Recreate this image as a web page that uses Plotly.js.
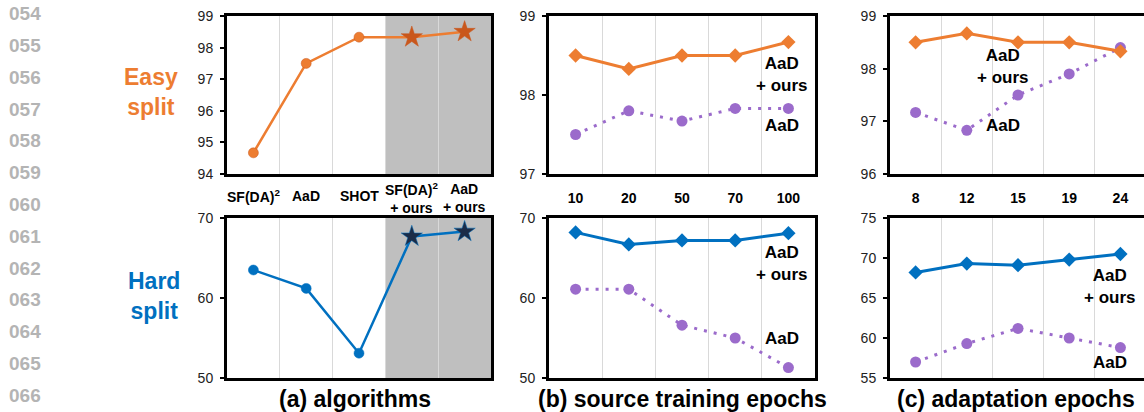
<!DOCTYPE html>
<html>
<head>
<meta charset="utf-8">
<script src="https://cdn.plot.ly/plotly-3.0.1.min.js"></script>
<style>
html,body{margin:0;padding:0;overflow:hidden;background:#fff;width:1144px;height:412px;}
#chart{width:1150px;height:412px;}
</style>
</head>
<body>
<div id="chart"></div>
<script>
// ---- data ----
const algorithms = ['SF(DA)<sup>2</sup>', 'AaD', 'SHOT', 'SF(DA)<sup>2</sup><br>+ ours', 'AaD<br>+ ours'];
const easyAlgo = [94.67, 97.5, 98.33, 98.33, 98.5];
const hardAlgo = [63.5, 61.2, 53.1, 67.7, 68.3];

const sourceEpochs = ['10', '20', '50', '70', '100'];
const easySrcOurs = [98.5, 98.33, 98.5, 98.5, 98.67];
const easySrcAaD = [97.5, 97.8, 97.67, 97.83, 97.83];
const hardSrcOurs = [68.2, 66.7, 67.2, 67.2, 68.1];
const hardSrcAaD = [61.1, 61.1, 56.6, 55.0, 51.3];

const adaptEpochs = ['8', '12', '15', '19', '24'];
const easyAdaOurs = [98.5, 98.67, 98.5, 98.5, 98.33];
const easyAdaAaD = [97.17, 96.83, 97.5, 97.9, 98.4];
const hardAdaOurs = [68.2, 69.3, 69.1, 69.8, 70.5];
const hardAdaAaD = [57.0, 59.3, 61.2, 60.0, 58.8];

const lineNumbers = ['054','055','056','057','058','059','060','061','062','063','064','065','066'];
const panelTitles = ['(a) algorithms', '(b) source training epochs', '(c) adaptation epochs'];
const splitLabels = ['Easy<br>split', 'Hard<br>split'];
const oursLabel = 'AaD<br>+ ours';
const aadLabel = 'AaD';

// ---- style ----
const W = 1150, H = 412;
const px = x => x / W;
const py = y => 1 - y / H;
const ORANGE = '#ED7D31', ORANGE_STAR = '#C9571C';
const BLUE = '#0070C0', BLUE_STAR = '#1B2C48';
const PURPLE = '#9B6BCB';
const FONT = 'Liberation Sans, Arial, sans-serif';

const colX = [[227, 491], [549, 815], [890, 1146]];
const rowY = [[16, 174], [218, 378]];

function xAxis(ci, ri, showLabels, anchor) {
  return {
    domain: [px(colX[ci][0]), px(colX[ci][1])],
    anchor: anchor,
    type: 'category',
    range: [-0.5, 4.5],
    tickson: 'boundaries',
    showgrid: true, gridcolor: '#D9D9D9', gridwidth: 1,
    showline: true, mirror: true, linecolor: '#000', linewidth: 3,
    ticks: '', showticklabels: showLabels,
    ticklabelstandoff: 9,
    tickfont: {family: FONT, size: 14, weight: 'bold', color: '#000'},
    zeroline: false, fixedrange: true
  };
}
function yAxis(ci, ri, range, dtick, anchor) {
  return {
    domain: [py(rowY[ri][1]), py(rowY[ri][0])],
    anchor: anchor,
    range: range, dtick: dtick, tick0: range[0],
    showgrid: false, zeroline: false,
    showline: true, mirror: true, linecolor: '#000', linewidth: 3,
    ticks: 'outside', ticklen: 4, tickwidth: 2, tickcolor: '#000',
    ticklabelstandoff: 4,
    tickfont: {family: FONT, size: 14, color: '#222'},
    fixedrange: true
  };
}

const starSyms = ['circle', 'circle', 'circle', 'star', 'star'];
const traces = [
  {x: algorithms, y: easyAlgo, xaxis: 'x', yaxis: 'y', mode: 'lines+markers',
   line: {color: ORANGE, width: 2.5},
   marker: {symbol: starSyms, size: [10, 10, 10, 16, 16], opacity: 1,
            color: [ORANGE, ORANGE, ORANGE, ORANGE_STAR, ORANGE_STAR],
            line: {width: 0.5, color: ORANGE_STAR}}},
  {x: algorithms, y: hardAlgo, xaxis: 'x2', yaxis: 'y2', mode: 'lines+markers',
   line: {color: BLUE, width: 2.5},
   marker: {symbol: starSyms, size: [10, 10, 10, 16, 16], opacity: 1,
            color: [BLUE, BLUE, BLUE, BLUE_STAR, BLUE_STAR],
            line: {width: 0.5, color: BLUE}}},
  {x: sourceEpochs, y: easySrcAaD, xaxis: 'x3', yaxis: 'y3', mode: 'lines+markers',
   line: {color: PURPLE, width: 3, dash: '3px,7px'}, marker: {symbol: 'circle', size: 11, color: PURPLE}},
  {x: sourceEpochs, y: easySrcOurs, xaxis: 'x3', yaxis: 'y3', mode: 'lines+markers',
   line: {color: ORANGE, width: 3}, marker: {symbol: 'diamond', size: 11, color: ORANGE}},
  {x: sourceEpochs, y: hardSrcAaD, xaxis: 'x4', yaxis: 'y4', mode: 'lines+markers',
   line: {color: PURPLE, width: 3, dash: '3px,7px'}, marker: {symbol: 'circle', size: 11, color: PURPLE}},
  {x: sourceEpochs, y: hardSrcOurs, xaxis: 'x4', yaxis: 'y4', mode: 'lines+markers',
   line: {color: BLUE, width: 3}, marker: {symbol: 'diamond', size: 11, color: BLUE}},
  {x: adaptEpochs, y: easyAdaAaD, xaxis: 'x5', yaxis: 'y5', mode: 'lines+markers',
   line: {color: PURPLE, width: 3, dash: '3px,7px'}, marker: {symbol: 'circle', size: 11, color: PURPLE}},
  {x: adaptEpochs, y: easyAdaOurs, xaxis: 'x5', yaxis: 'y5', mode: 'lines+markers',
   line: {color: ORANGE, width: 3}, marker: {symbol: 'diamond', size: 11, color: ORANGE}},
  {x: adaptEpochs, y: hardAdaAaD, xaxis: 'x6', yaxis: 'y6', mode: 'lines+markers',
   line: {color: PURPLE, width: 3, dash: '3px,7px'}, marker: {symbol: 'circle', size: 11, color: PURPLE}},
  {x: adaptEpochs, y: hardAdaOurs, xaxis: 'x6', yaxis: 'y6', mode: 'lines+markers',
   line: {color: BLUE, width: 3}, marker: {symbol: 'diamond', size: 11, color: BLUE}}
];
traces.forEach(t => { t.showlegend = false; t.hoverinfo = 'skip'; t.cliponaxis = false; });

const annotations = [];
// line numbers
lineNumbers.forEach((n, i) => annotations.push({
  text: n, xref: 'paper', yref: 'paper', x: px(7), y: py(14 + i * 31.75),
  xanchor: 'left', yanchor: 'middle', showarrow: false,
  font: {family: FONT, size: 19, weight: 'bold', color: '#B4B4B4'}
}));
// split labels
annotations.push({text: splitLabels[0], xref: 'paper', yref: 'paper', x: px(151), y: py(92),
  xanchor: 'center', yanchor: 'middle', showarrow: false,
  font: {family: FONT, size: 23, weight: 'bold', color: ORANGE}});
annotations.push({text: splitLabels[1], xref: 'paper', yref: 'paper', x: px(154), y: py(296),
  xanchor: 'center', yanchor: 'middle', showarrow: false,
  font: {family: FONT, size: 23, weight: 'bold', color: BLUE}});
// algorithm tick labels
algorithms.forEach((a, i) => annotations.push({
  text: a, xref: 'x', yref: 'paper', x: a, y: py(i < 3 ? 196 : 198),
  xanchor: 'center', yanchor: 'middle', showarrow: false,
  font: {family: FONT, size: 14, weight: 'bold', color: '#000'}
}));
// panel titles
const titleX = [355, 682, 1016];
panelTitles.forEach((t, i) => annotations.push({
  text: t, xref: 'paper', yref: 'paper', x: px(titleX[i]), y: py(399),
  xanchor: 'center', yanchor: 'middle', showarrow: false,
  font: {family: FONT, size: 23, weight: 'bold', color: '#000'}
}));
// series labels
const lbl = (text, x, y) => annotations.push({
  text: text, xref: 'paper', yref: 'paper', x: px(x), y: py(y),
  xanchor: 'center', yanchor: 'middle', showarrow: false,
  font: {family: FONT, size: 17, weight: 'bold', color: '#000'}
});
lbl(oursLabel, 782, 74);
lbl(aadLabel, 782, 126);
lbl(oursLabel, 782, 263);
lbl(aadLabel, 782, 338);
lbl(oursLabel, 1003, 66);
lbl(aadLabel, 1003, 126);
lbl(oursLabel, 1110, 286);
lbl(aadLabel, 1110, 362);

const shapes = [
  {type: 'rect', xref: 'x', yref: 'y domain', x0: 2.5, x1: 4.5, y0: 0, y1: 1,
   fillcolor: '#BFBFBF', line: {width: 0}, layer: 'below'},
  {type: 'rect', xref: 'x2', yref: 'y2 domain', x0: 2.5, x1: 4.5, y0: 0, y1: 1,
   fillcolor: '#BFBFBF', line: {width: 0}, layer: 'below'}
];

const layout = {
  width: W, height: H,
  margin: {l: 0, r: 0, t: 0, b: 0},
  paper_bgcolor: '#fff', plot_bgcolor: 'rgba(0,0,0,0)',
  showlegend: false,
  font: {family: FONT},
  xaxis: xAxis(0, 0, false, 'y'),
  yaxis: yAxis(0, 0, [94, 99], 1, 'x'),
  xaxis2: xAxis(0, 1, false, 'y2'),
  yaxis2: yAxis(0, 1, [50, 70], 10, 'x2'),
  xaxis3: xAxis(1, 0, true, 'y3'),
  yaxis3: yAxis(1, 0, [97, 99], 1, 'x3'),
  xaxis4: xAxis(1, 1, false, 'y4'),
  yaxis4: yAxis(1, 1, [50, 70], 10, 'x4'),
  xaxis5: xAxis(2, 0, true, 'y5'),
  yaxis5: yAxis(2, 0, [96, 99], 1, 'x5'),
  xaxis6: xAxis(2, 1, false, 'y6'),
  yaxis6: yAxis(2, 1, [55, 75], 5, 'x6'),
  annotations: annotations,
  shapes: shapes
};

Plotly.newPlot('chart', traces, layout, {displayModeBar: false, staticPlot: true});
</script>
</body>
</html>
